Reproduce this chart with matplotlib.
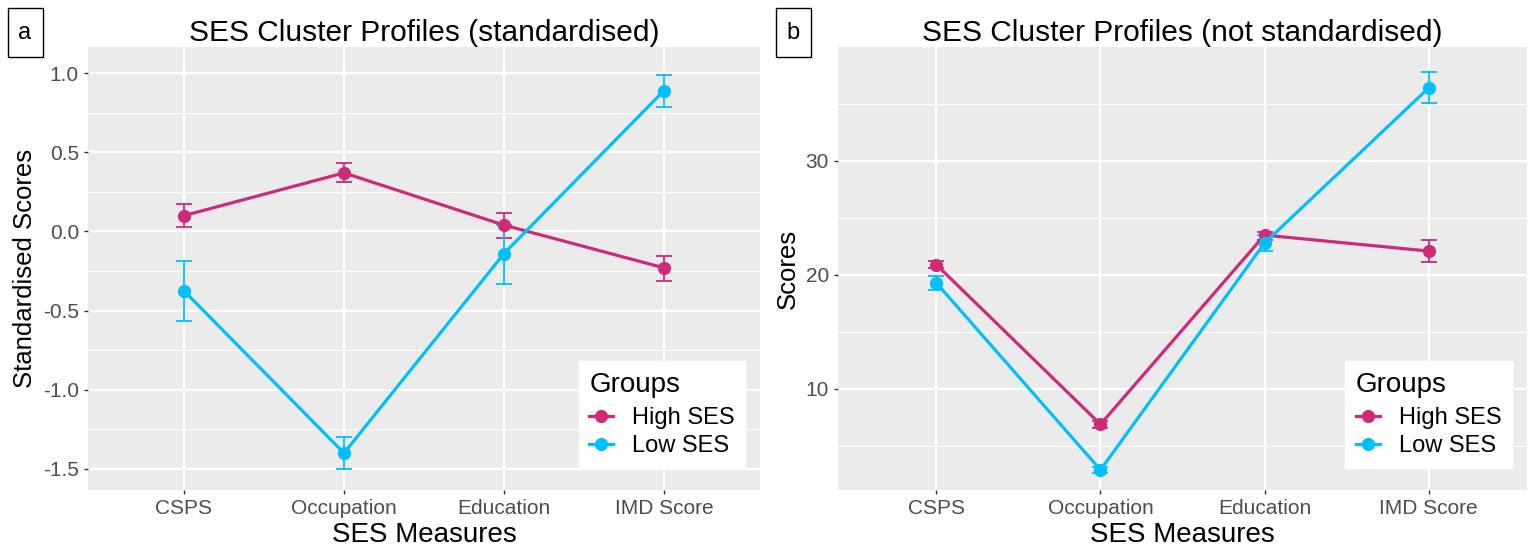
import matplotlib.pyplot as plt
from matplotlib.patches import Rectangle
import numpy as np

plt.rcParams['font.family'] = ['Liberation Sans', 'DejaVu Sans']
plt.rcParams['axes.unicode_minus'] = False

measures = ['CSPS', 'Occupation', 'Education', 'IMD Score']
groups = ['High SES', 'Low SES']
colours = ['#CE2A78', '#00BFFF']

# standardised means and error bar limits
std_high = [0.10, 0.37, 0.04, -0.23]
std_high_lo = [0.025, 0.31, -0.04, -0.31]
std_high_hi = [0.175, 0.43, 0.115, -0.155]
std_low = [-0.375, -1.40, -0.14, 0.89]
std_low_lo = [-0.565, -1.50, -0.33, 0.785]
std_low_hi = [-0.185, -1.30, 0.04, 0.99]

# raw scores
raw_high = [20.9, 6.9, 23.5, 22.1]
raw_high_lo = [20.6, 6.6, 23.1, 21.1]
raw_high_hi = [21.2, 7.2, 23.8, 23.1]
raw_low = [19.3, 2.9, 22.8, 36.4]
raw_low_lo = [18.7, 2.6, 22.1, 35.1]
raw_low_hi = [19.9, 3.2, 23.5, 37.8]

W, H = 1530, 550
fig = plt.figure(figsize=(W / 100, H / 100), dpi=100)


def panel(rect, series, yticks, ylim, minor, title, ylabel, tag, tagx):
    ax = fig.add_axes(rect)
    ax.set_facecolor('#EBEBEB')
    for s in ax.spines.values():
        s.set_visible(False)
    x = np.arange(len(measures))
    for m in minor:
        ax.axhline(m, color='white', lw=0.8, zorder=0)
    for t in yticks:
        ax.axhline(t, color='white', lw=1.6, zorder=0)
    for xi in x:
        ax.axvline(xi, color='white', lw=1.6, zorder=0)
    for (mean, lo, hi), col, name in zip(series, colours, groups):
        mean = np.array(mean)
        err = [mean - np.array(lo), np.array(hi) - mean]
        ax.errorbar(x, mean, yerr=err, fmt='none', ecolor=col, elinewidth=1.3,
                    capsize=5.5, capthick=1.3, zorder=2)
        ax.plot(x, mean, '-o', color=col, lw=2.3, ms=8.5, label=name, zorder=3)
    ax.set_xlim(-0.6, len(measures) - 0.4)
    ax.set_ylim(*ylim)
    ax.set_xticks(x)
    ax.set_xticklabels(measures)
    ax.set_yticks(yticks)
    ax.tick_params(axis='both', colors='#333333', labelcolor='#4D4D4D',
                   labelsize=15, length=3, width=1)
    ax.set_xlabel('SES Measures', fontsize=20, labelpad=3)
    ax.set_ylabel(ylabel, fontsize=18.5, labelpad=4)
    ax.set_title(title, fontsize=21.5, pad=4)
    leg = ax.legend(title='Groups', loc='lower right', fontsize=17,
                    title_fontsize=20, frameon=True, fancybox=False,
                    edgecolor='white', framealpha=1, borderpad=0.45,
                    handlelength=1.0, handletextpad=0.8, labelspacing=0.25,
                    borderaxespad=0, bbox_to_anchor=(0.978, 0.05))
    leg._legend_box.align = 'left'
    leg._legend_box.sep = 7
    # panel letter in a small box
    fig.add_artist(Rectangle((tagx - 17 / W, 1 - 57 / H), 35 / W, 49 / H,
                             transform=fig.transFigure, fc='white', ec='black', lw=1))
    fig.text(tagx, 1 - 33 / H, tag, fontsize=17, ha='center', va='center')
    return ax


panel([88 / W, 1 - 490 / H, 672 / W, 443 / H],
      [(std_high, std_high_lo, std_high_hi), (std_low, std_low_lo, std_low_hi)],
      [-1.5, -1.0, -0.5, 0.0, 0.5, 1.0], (-1.633, 1.165),
      [-1.25, -0.75, -0.25, 0.25, 0.75],
      'SES Cluster Profiles (standardised)', 'Standardised Scores', 'a', 25 / W)

panel([838 / W, 1 - 490 / H, 689 / W, 443 / H],
      [(raw_high, raw_high_lo, raw_high_hi), (raw_low, raw_low_lo, raw_low_hi)],
      [10, 20, 30], (1.14, 40.0), [5, 15, 25, 35],
      'SES Cluster Profiles (not standardised)', 'Scores', 'b', 793 / W)

fig.savefig('out.png', dpi=100)
